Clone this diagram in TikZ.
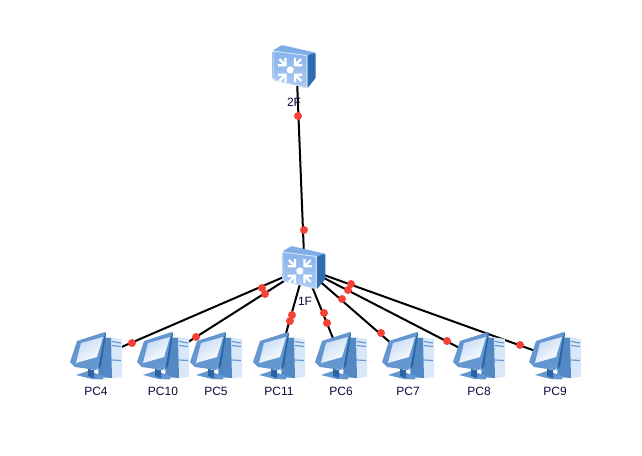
\documentclass[tikz,border=0pt]{standalone}
\usepackage{fontspec}
\setmainfont{Liberation Sans}
\definecolor{lbl}{HTML}{10083C}
\definecolor{dot}{HTML}{F44336}
\definecolor{swL}{HTML}{AECBF2}
\definecolor{swD}{HTML}{86B2EA}
\definecolor{swS}{HTML}{2F6DB0}
\definecolor{swT}{HTML}{7FAEE6}
\definecolor{pcA}{HTML}{6497D0}
\definecolor{pcB}{HTML}{2A64A4}
\definecolor{pcM}{HTML}{5288C4}
\definecolor{pcC}{HTML}{D8E8F9}
\definecolor{pcD}{HTML}{C4DAF3}
\tikzset{
  x=1pt,y=-1pt,
  hub/.style={inner sep=0pt,minimum size=2pt},
  link/.style={line width=2pt,black},
  lab/.style={font=\fontsize{12}{14}\selectfont,text=lbl,inner sep=0pt},
  handle/.style={circle,fill=dot,draw=none,inner sep=0pt,minimum size=8pt},
}
\newcommand{\arrowin}[1]{%
  \begin{scope}[rotate=#1]
  \draw[white,line width=2.2pt] (15.5,0) -- (6.5,0);
  \draw[white,line width=2.2pt,miter limit=4] (12,-5.3) -- (6.7,0) -- (12,5.3);
  \end{scope}}
% #1,#2 = top-left corner of the front face
\newcommand{\switchicon}[2]{%
  \begin{scope}[shift={(#1,#2)}]
  \fill[swT,rounded corners=1pt] (0,0) -- (9,-5.7) -- (43,2) -- (34.6,4.3) -- cycle;
  \fill[swS,rounded corners=1pt] (34.6,4.3) -- (43,2) -- (43,27.3) -- (34.6,37.6) -- cycle;
  \shade[top color=swD,bottom color=swL,rounded corners=1.5pt] (0,0) -- (34.6,4.3) -- (34.6,37.6) -- (0,29.3) -- cycle;
  \draw[swL!60!white,line width=.9pt,rounded corners=1.5pt] (.5,.5) -- (34,4.8) -- (34,37) -- (.5,28.8) -- cycle;
  \begin{scope}[shift={(17.5,19.3)}]
  \foreach \a in {45,135,225,315}{\arrowin{\a}}
  \fill[white] (0,0) circle (3.6);
  \end{scope}
  \end{scope}}
% #1,#2 = top-left of the icon box
\newcommand{\pcicon}[2]{%
  \begin{scope}[shift={(#1,#2)}]
  % tower
  \fill[pcC] (40,5) -- (52,7) -- (52,45) -- (42,46) -- cycle;
  \fill[pcM] (31,5) -- (41,6) -- (42,46) -- (28,45) -- cycle;
  \draw[pcA,line width=1.1pt] (42,9.5) -- (51,11) (42,13.5) -- (51,14.5) (42,28) -- (51,28.5);
  % base
  \fill[pcA] (6,43) -- (18,39) -- (34,44) -- (33,47.5) -- (22,47) -- cycle;
  \fill[pcB] (18,37) -- (24,38) -- (24,46) -- (18,44) -- cycle;
  % monitor
  \fill[pcA] (0,30) -- (7,9) -- (35,0) -- (29,33) -- (26,38) -- (5,35) -- cycle;
  \fill[pcB] (35,0) -- (36,2) -- (31,34) -- (27,38.5) -- (29,33) -- cycle;
  \shade[top color=pcD,bottom color=white,shading angle=35] (11,11) -- (33,5) -- (27,25) -- (6,31) -- cycle;
  \end{scope}}
\begin{document}
\begin{tikzpicture}
\path[use as bounding box] (0,0) rectangle (642,455);
\fill[white] (0,0) rectangle (642,455);
\node[hub] (sw2) at (296.5,67) {};
\node[hub] (sw1) at (304.5,268) {};
\node[hub] (pc4) at (96,358) {};
\node[hub] (pc10) at (163,358) {};
\node[hub] (pc11) at (279,358) {};
\node[hub] (pc6) at (341,358) {};
\node[hub] (pc7) at (408,358) {};
\node[hub] (pc8) at (479,358) {};
\node[hub] (pc9) at (555,358) {};
\foreach \t in {sw2,pc4,pc10,pc11,pc6,pc7,pc8,pc9}{\draw[link] (sw1.center) -- (\t.center);}
\switchicon{272.7}{50.7}
\switchicon{282.3}{251.7}
\pcicon{70}{332}
\pcicon{137}{332}
\pcicon{190}{332}
\pcicon{253}{332}
\pcicon{315}{332}
\pcicon{382}{332}
\pcicon{453}{332}
\pcicon{529}{332}
\node[lab] (l2) at (294,102) {2F};
\node[lab] (l1) at (305,301) {1F};
\node[lab] (n4) at (96,391) {PC4};
\node[lab] (n10) at (163,391) {PC10};
\node[lab] (n5) at (216,391) {PC5};
\node[lab] (n11) at (279,391) {PC11};
\node[lab] (n6) at (341,391) {PC6};
\node[lab] (n7) at (408,391) {PC7};
\node[lab] (n8) at (479,391) {PC8};
\node[lab] (n9) at (555,391) {PC9};
\foreach \p/\q [count=\i] in {298/116,304/230,262/288,265/294,132/343,196/337,292/315,290/321,324/313,327/323,342/299,381/333,348/290,447/341,351/284,520/345}{
  \node[handle] (h\i) at (\p,\q) {};}
\end{tikzpicture}
\end{document}
